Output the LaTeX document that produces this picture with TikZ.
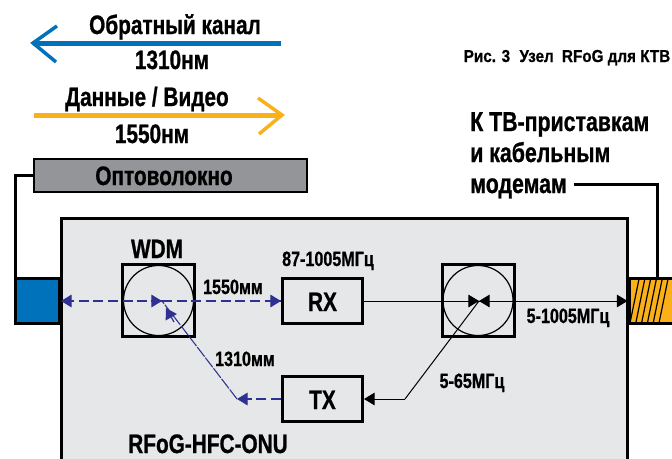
\documentclass[tikz,border=0pt]{standalone}
\usepackage{fontspec}
\setmainfont{Liberation Sans}[FakeStretch=0.78,BoldFeatures={FakeStretch=0.78,FakeBold=0.8}]
\newfontfamily\captionfont{Liberation Sans}[FakeStretch=0.88,BoldFeatures={FakeStretch=0.88,FakeBold=0.6}]
\usetikzlibrary{arrows.meta, positioning}
\definecolor{backblue}{HTML}{0072BC}
\definecolor{dataorange}{HTML}{FBB01A}
\definecolor{fibregray}{HTML}{939598}
\definecolor{panelgray}{HTML}{E6E7E8}
\definecolor{dashblue}{HTML}{2E3192}
\tikzset{
  block/.style={draw=black,line width=2.25pt,inner sep=0pt},
  filterbox/.style={block,minimum size=54pt},
  filtercircle/.style={draw=black,circle,line width=0.9pt,minimum size=52.5pt,inner sep=0pt},
  amp/.style={block,minimum width=60pt,minimum height=33.75pt},
  port/.style={block,minimum height=33.75pt},
  wire/.style={draw=black,line width=2.25pt},
  tip/.style={-{Triangle[length=8pt,width=9.5pt]}},
  sig/.style={line width=0.75pt,black},
  opt/.style={line width=0.9pt,dashblue,dash pattern=on 7.5pt off 3.5pt},
  opttip/.style={line width=0.9pt,-{Triangle[length=8pt,width=9.5pt]},dashblue},
  big/.style={anchor=base,font=\fontsize{20}{23}\selectfont\bfseries},
  mid/.style={anchor=base,font=\fontsize{15.5}{18}\selectfont\bfseries},
  tvtext/.style={anchor=base west,inner sep=0pt,font=\fontsize{20.5}{23}\selectfont\bfseries},
  ray/.style={line width=3.75pt},
  rayhead/.style={line width=2.6pt}
}
\begin{document}
\begin{tikzpicture}[x=0.75pt,y=-0.75pt]
\useasboundingbox (0,0) rectangle (672,458);
% Legend
\coordinate (backend) at (281,43);
\coordinate (backtip) at (33,43);
\coordinate (backup) at (57,26);
\coordinate (backdown) at (56,62);
\draw[ray,backblue] (backend) -- (backtip);
\draw[rayhead,backblue] (backup) -- (backtip) -- (backdown);
\node[big] (backname) at (175,34) {Обратный канал};
\node[big] (backwave) at (172,69) {1310нм};

\coordinate (datastart) at (34,115);
\coordinate (datatip) at (282,115);
\coordinate (dataup) at (258,98);
\coordinate (datadown) at (259,134);
\draw[ray,dataorange] (datastart) -- (datatip);
\draw[rayhead,dataorange] (dataup) -- (datatip) -- (datadown);
\node[big] (dataname) at (147,106) {Данные / Видео};
\node[big] (datawave) at (152,143) {1550нм};

% Caption
\node[anchor=base,font=\fontsize{13}{15}\captionfont\bfseries] (caption) at (567,62) {Рис. 3\hspace{7pt}Узел\hspace{3pt} RFoG для КТВ};

% Main panel
\node[block,fill=panelgray,minimum width=424.5pt,minimum height=200pt] (onu) at (344,352) {};

% Fibre and ports
\node[port,fill=backblue,minimum width=33pt] (fibreport) at (37.5,301) {};
\node[port,fill=dataorange,minimum width=42pt] (tvport) at (657,301) {};
\foreach \xa in {0,1,...,5}
  \draw[line width=0.9pt] (639+\xa*5.8,279) -- (630+\xa*5.8,323);
\node[block,line width=1.5pt,fill=fibregray,minimum width=205pt,minimum height=25pt] (fibre) at (170.5,175.5) {};
\node[big] (fibrename) at (164,185) {Оптоволокно};
\draw[wire] (fibre.west) -| ([xshift=1.1pt]fibreport.north west);

% Text to the right
\node[tvtext] (tvone) at (470,131) {К ТВ-приставкам};
\node[tvtext] (tvtwo) at (470,162) {и кабельным};
\node[tvtext] (tvthree) at (470,193) {модемам};
\draw[wire] ([xshift=5pt]tvthree.east |- 0,184) -| (tvport.north);

% WDM
\node[filterbox] (wdm) at (158.5,300.5) {};
\node[filtercircle] (wdmring) at (wdm) {};
\node[big] (wdmname) at (157,258) {WDM};

% Splitter
\node[filterbox] (split) at (478,300.5) {};
\node[filtercircle] (splitring) at (split) {};

% RX, TX
\node[amp] (rx) at (322.5,301) {};
\node[amp] (tx) at (322.5,399) {};
\node[big] (rxname) at (322.5,311) {RX};
\node[big] (txname) at (322.5,409) {TX};

\coordinate (wdmhub) at (162,301);
\coordinate (opticbend) at (237,399);
\coordinate (splithub) at (479,301);
\coordinate (rfbend) at (405,399);

% Optical paths
\draw[opt] (wdmhub) -- (fibreport.east);
\draw[opt] (wdmhub) -- (rx.west);
\draw[opt] (tx.west) -- (opticbend);
\draw[line width=0.8pt,dashblue,dash pattern=on 9pt off 1pt] (opticbend) -- (wdmhub);
\draw[opttip] ([xshift=8.5pt]fibreport.east) -- (fibreport.east);
\draw[opttip] ([xshift=-8.5pt]rx.west) -- (rx.west);
\draw[opttip] ([xshift=8.5pt]opticbend) -- (opticbend);
\draw[opttip] ([xshift=-8.5pt]wdmhub) -- (wdmhub);
\draw[opttip] (174,322) -- (166,308);

% RF paths
\draw[sig,tip] (rx.east) -- (tvport.west);
\draw[sig] (rfbend) -- (splithub);
\draw[sig,tip] (rfbend) -- (tx.east);
\draw[sig,tip] ([xshift=-8.5pt]splithub) -- (splithub);
\draw[sig,tip] ([xshift=8.5pt]splithub) -- (splithub);

% Labels
\node[mid] (rxband) at (328,266) {87-1005МГц};
\node[mid] (downwave) at (233,294) {1550мм};
\node[mid] (upwave) at (245,366) {1310мм};
\node[mid] (fullband) at (568,323) {5-1005МГц};
\node[mid] (upband) at (472,388) {5-65МГц};
\node[big] (onuname) at (208,453) {RFoG-HFC-ONU};
\end{tikzpicture}
\end{document}
